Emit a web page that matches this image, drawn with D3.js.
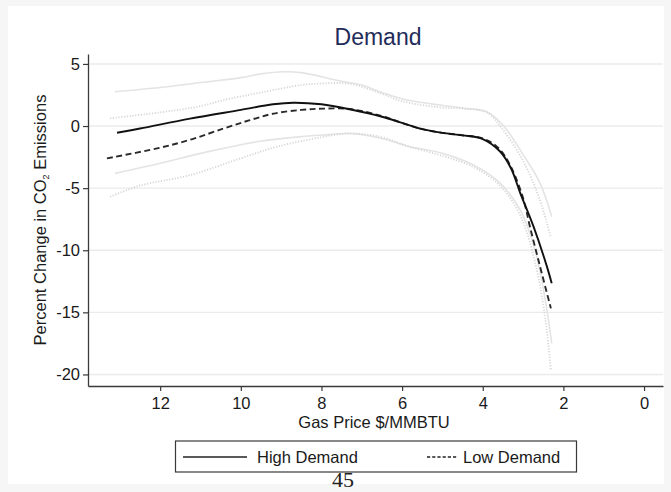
<!DOCTYPE html>
<html>
<head>
<meta charset="utf-8">
<script src="https://cdn.jsdelivr.net/npm/d3@7"></script>
<style>
  html, body { margin: 0; padding: 0; background: #f6f6f6; }
  svg { display: block; }
  text { font-family: "Liberation Sans", Arial, Helvetica, sans-serif; }
</style>
</head>
<body>
<svg id="chart" width="671" height="492"></svg>
<script>
// Gas price ($/MMBTU) and percent change in CO2 emissions, per demand scenario
const highPrice = [13.07, 12.5, 11.26, 10.0, 9.2, 8.7, 8.0, 7.3, 6.5, 6.0, 5.5, 5.0, 4.5, 4.0, 3.57, 3.3, 3.07, 2.74, 2.41, 2.29];
const highValue = [-0.54, -0.2, 0.6, 1.3, 1.75, 1.88, 1.75, 1.35, 0.75, 0.25, -0.25, -0.55, -0.75, -1.05, -2.05, -3.4, -5.4, -8.1, -11.3, -12.66];

const lowPrice = [13.32, 12.08, 11.2, 10.43, 9.8, 9.19, 8.5, 7.95, 7.3, 6.5, 6.0, 5.5, 5.0, 4.5, 4.0, 3.6, 3.3, 3.0, 2.83, 2.58, 2.31];
const lowValue = [-2.6, -1.8, -1.05, -0.2, 0.45, 1.0, 1.3, 1.4, 1.37, 0.8, 0.25, -0.25, -0.55, -0.75, -1.0, -1.8, -3.3, -5.8, -8.1, -11.3, -14.68];

// Confidence bounds, high demand
const highUpperPrice = [13.12, 12.0, 11.0, 10.0, 9.5, 8.94, 8.5, 7.5, 7.0, 6.5, 5.88, 5.06, 4.5, 3.9, 3.6, 3.4, 3.0, 2.58, 2.29];
const highUpperValue = [2.76, 3.1, 3.5, 3.9, 4.2, 4.37, 4.3, 3.6, 3.3, 2.7, 2.09, 1.69, 1.45, 1.15, 0.4, -0.32, -2.3, -4.6, -7.3];
const highLowerPrice = [13.12, 12.0, 11.0, 10.0, 9.6, 8.5, 7.95, 7.3, 6.5, 5.88, 5.0, 4.23, 3.57, 3.07, 2.7, 2.45, 2.29];
const highLowerValue = [-3.81, -3.0, -2.2, -1.5, -1.26, -0.85, -0.72, -0.6, -1.0, -1.6, -2.2, -3.14, -4.6, -6.76, -10.0, -14.0, -17.5];

// Confidence bounds, low demand
const lowUpperPrice = [13.24, 12.0, 11.0, 10.43, 9.5, 8.5, 7.95, 7.3, 6.5, 6.0, 5.06, 4.5, 3.9, 3.5, 3.0, 2.6, 2.31];
const lowUpperValue = [0.62, 1.1, 1.6, 2.09, 2.7, 3.3, 3.43, 3.4, 2.6, 2.0, 1.5, 1.4, 1.1, -0.3, -2.8, -5.8, -9.0];
const lowLowerPrice = [13.24, 12.5, 11.26, 10.0, 9.11, 8.0, 7.29, 6.5, 5.88, 5.0, 4.23, 3.57, 3.07, 2.7, 2.45, 2.31];
const lowLowerValue = [-5.69, -4.8, -3.95, -2.6, -1.67, -0.9, -0.59, -0.9, -1.6, -2.4, -3.3, -4.8, -7.2, -11.0, -15.5, -19.65];

const xTicks = [12, 10, 8, 6, 4, 2, 0];
const yTicks = [5, 0, -5, -10, -15, -20];
const seriesNames = ["High Demand", "Low Demand"];

const svg = d3.select("#chart");

// graph region
svg.append("rect").attr("x", 8).attr("y", 6).attr("width", 656).attr("height", 478)
  .attr("fill", "#ffffff");

const x = d3.scaleLinear().domain([13.79, -0.47]).range([88, 663]);
const y = d3.scaleLinear().domain([-20.93, 5.8]).range([386, 54]);

// horizontal grid
svg.append("g").selectAll("line").data(yTicks).join("line")
  .attr("x1", 88).attr("x2", 663)
  .attr("y1", d => y(d)).attr("y2", d => y(d))
  .attr("stroke", "#ebebeb").attr("stroke-width", 1.4);

// axes (plain hyphen for negative labels)
const fmt = d => String(d);
const yAxis = svg.append("g").attr("transform", "translate(88,0)")
  .call(d3.axisLeft(y).tickValues(yTicks).tickFormat(fmt).tickSize(5).tickPadding(3).tickSizeOuter(0));
const xAxis = svg.append("g").attr("transform", "translate(0,386)")
  .call(d3.axisBottom(x).tickValues(xTicks).tickFormat(fmt).tickSize(5).tickPadding(6).tickSizeOuter(0));
[yAxis, xAxis].forEach(g => {
  g.select(".domain").attr("stroke", "#3a3a3a").attr("stroke-width", 1.3);
  g.selectAll(".tick line").attr("stroke", "#3a3a3a").attr("stroke-width", 1.2);
  g.selectAll(".tick text").attr("fill", "#1a1a1a")
    .style("font-family", "'Liberation Sans', Arial, sans-serif").style("font-size", "16.5px");
});

const line = d3.line()
  .x(d => x(d[0])).y(d => y(d[1]))
  .curve(d3.curveCatmullRom.alpha(0.5));
const pairs = (px, py) => px.map((p, i) => [p, py[i]]);

const plot = svg.append("g");
// confidence bounds
plot.append("path").attr("d", line(pairs(highUpperPrice, highUpperValue)))
  .attr("fill", "none").attr("stroke", "#e4e4e4").attr("stroke-width", 1.6);
plot.append("path").attr("d", line(pairs(highLowerPrice, highLowerValue)))
  .attr("fill", "none").attr("stroke", "#e4e4e4").attr("stroke-width", 1.6);
plot.append("path").attr("d", line(pairs(lowUpperPrice, lowUpperValue)))
  .attr("fill", "none").attr("stroke", "#d6d6d6").attr("stroke-width", 1.8)
  .attr("stroke-dasharray", "1.2,1.6");
plot.append("path").attr("d", line(pairs(lowLowerPrice, lowLowerValue)))
  .attr("fill", "none").attr("stroke", "#d6d6d6").attr("stroke-width", 1.8)
  .attr("stroke-dasharray", "1.2,1.6");

// estimates
plot.append("path").attr("d", line(pairs(lowPrice, lowValue)))
  .attr("fill", "none").attr("stroke", "#2a2a2a").attr("stroke-width", 1.9)
  .attr("stroke-dasharray", "6,3.5");
plot.append("path").attr("d", line(pairs(highPrice, highValue)))
  .attr("fill", "none").attr("stroke", "#111111").attr("stroke-width", 1.9);

// title
svg.append("text").attr("x", 378).attr("y", 45).attr("text-anchor", "middle")
  .attr("fill", "#1f2c5a").style("font-size", "23px").text("Demand");

// axis titles
svg.append("text").attr("x", 374).attr("y", 428).attr("text-anchor", "middle")
  .attr("fill", "#1a1a1a").style("font-size", "16.5px").text("Gas Price $/MMBTU");

const yt = svg.append("text").attr("transform", "translate(46,220) rotate(-90)")
  .attr("text-anchor", "middle").attr("fill", "#1a1a1a").style("font-size", "16.5px");
yt.append("tspan").text("Percent Change in CO");
yt.append("tspan").attr("dy", 3).style("font-size", "9px").text("2");
yt.append("tspan").attr("dy", -3).text(" Emissions");

// legend
const lg = svg.append("g");
lg.append("rect").attr("x", 175.5).attr("y", 441).attr("width", 401).attr("height", 31)
  .attr("fill", "#ffffff").attr("stroke", "#3a3a3a").attr("stroke-width", 1.2);
lg.append("line").attr("x1", 183).attr("x2", 247).attr("y1", 457).attr("y2", 457)
  .attr("stroke", "#222").attr("stroke-width", 1.4);
lg.append("text").attr("x", 257).attr("y", 463).attr("fill", "#1a1a1a")
  .style("font-size", "16.5px").text(seriesNames[0]);
lg.append("line").attr("x1", 427).attr("x2", 458).attr("y1", 457).attr("y2", 457)
  .attr("stroke", "#222").attr("stroke-width", 1.4).attr("stroke-dasharray", "3.2,2");
lg.append("text").attr("x", 463).attr("y", 463).attr("fill", "#1a1a1a")
  .style("font-size", "16.5px").text(seriesNames[1]);

// page number
svg.append("text").attr("x", 343).attr("y", 487).attr("text-anchor", "middle")
  .attr("fill", "#222").style("font-family", "'Liberation Serif', serif")
  .style("font-size", "22px").text("45");
</script>
</body>
</html>
